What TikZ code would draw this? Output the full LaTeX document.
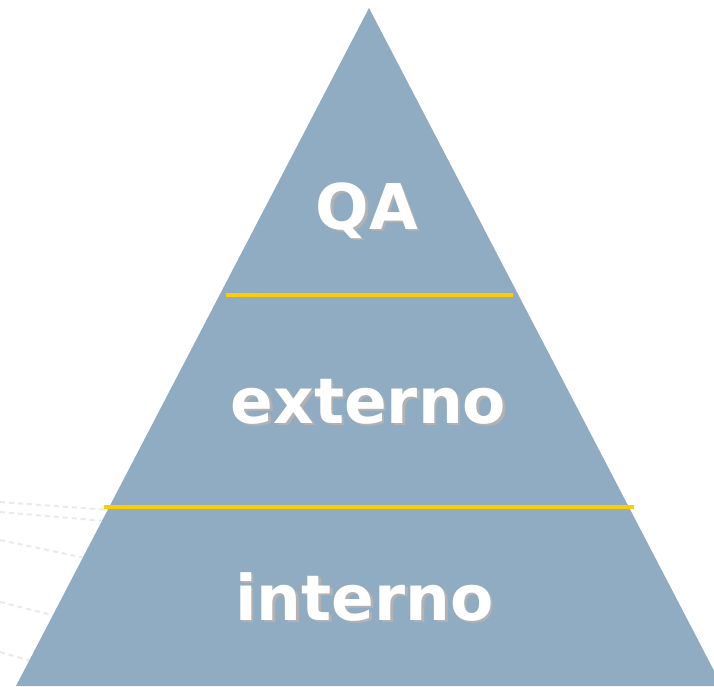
\documentclass[tikz,border=0pt]{standalone}
\usepackage{fontspec}
\setmainfont{DejaVu Sans}
\definecolor{pyr}{RGB}{143,172,194}
\definecolor{gold}{RGB}{255,204,0}
\definecolor{shade}{RGB}{178,178,178}
\definecolor{dashgray}{RGB}{234,234,234}
\begin{document}
\begin{tikzpicture}[x=1pt,y=-1pt,
  lbl/.style={anchor=base,inner sep=0pt,text=white,font=\bfseries\fontsize{63}{70}\selectfont},
  lblshadow/.style={lbl,text=shade},
  divider/.style={draw=gold,line width=4pt},
  bgdash/.style={draw=dashgray,line width=2pt,dash pattern=on 5pt off 4pt}]
\useasboundingbox (0,0) rectangle (714,686);
\clip (0,0) rectangle (714,686);
% faint background dashed lines
\draw[bgdash] (0,502) -- (110,510);
\draw[bgdash] (0,512) -- (105,521);
\draw[bgdash] (0,540) -- (90,559);
\draw[bgdash] (0,602) -- (60,617);
\draw[bgdash] (0,652) -- (35,662);
% pyramid
\coordinate (apex) at (369,8);
\coordinate (bl) at (16,686);
\coordinate (br) at (722,686);
\fill[pyr] (apex) -- (bl) -- (br) -- cycle;
% dividers
\coordinate (d1a) at (226,295);
\coordinate (d1b) at (513,295);
\coordinate (d2a) at (104,507);
\coordinate (d2b) at (634,507);
\draw[divider] (d1a) -- (d1b);
\draw[divider] (d2a) -- (d2b);
% labels with shadows
\node[lblshadow] (qas) at (369.5,231.5) {QA};
\node[lbl] (qa) at (367,229) {QA};
\node[lblshadow] (exs) at (371,425.5) {externo};
\node[lbl] (ex) at (368.5,423) {externo};
\node[lblshadow] (ins) at (367,622.5) {interno};
\node[lbl] (in) at (364.5,620) {interno};
\end{tikzpicture}
\end{document}
